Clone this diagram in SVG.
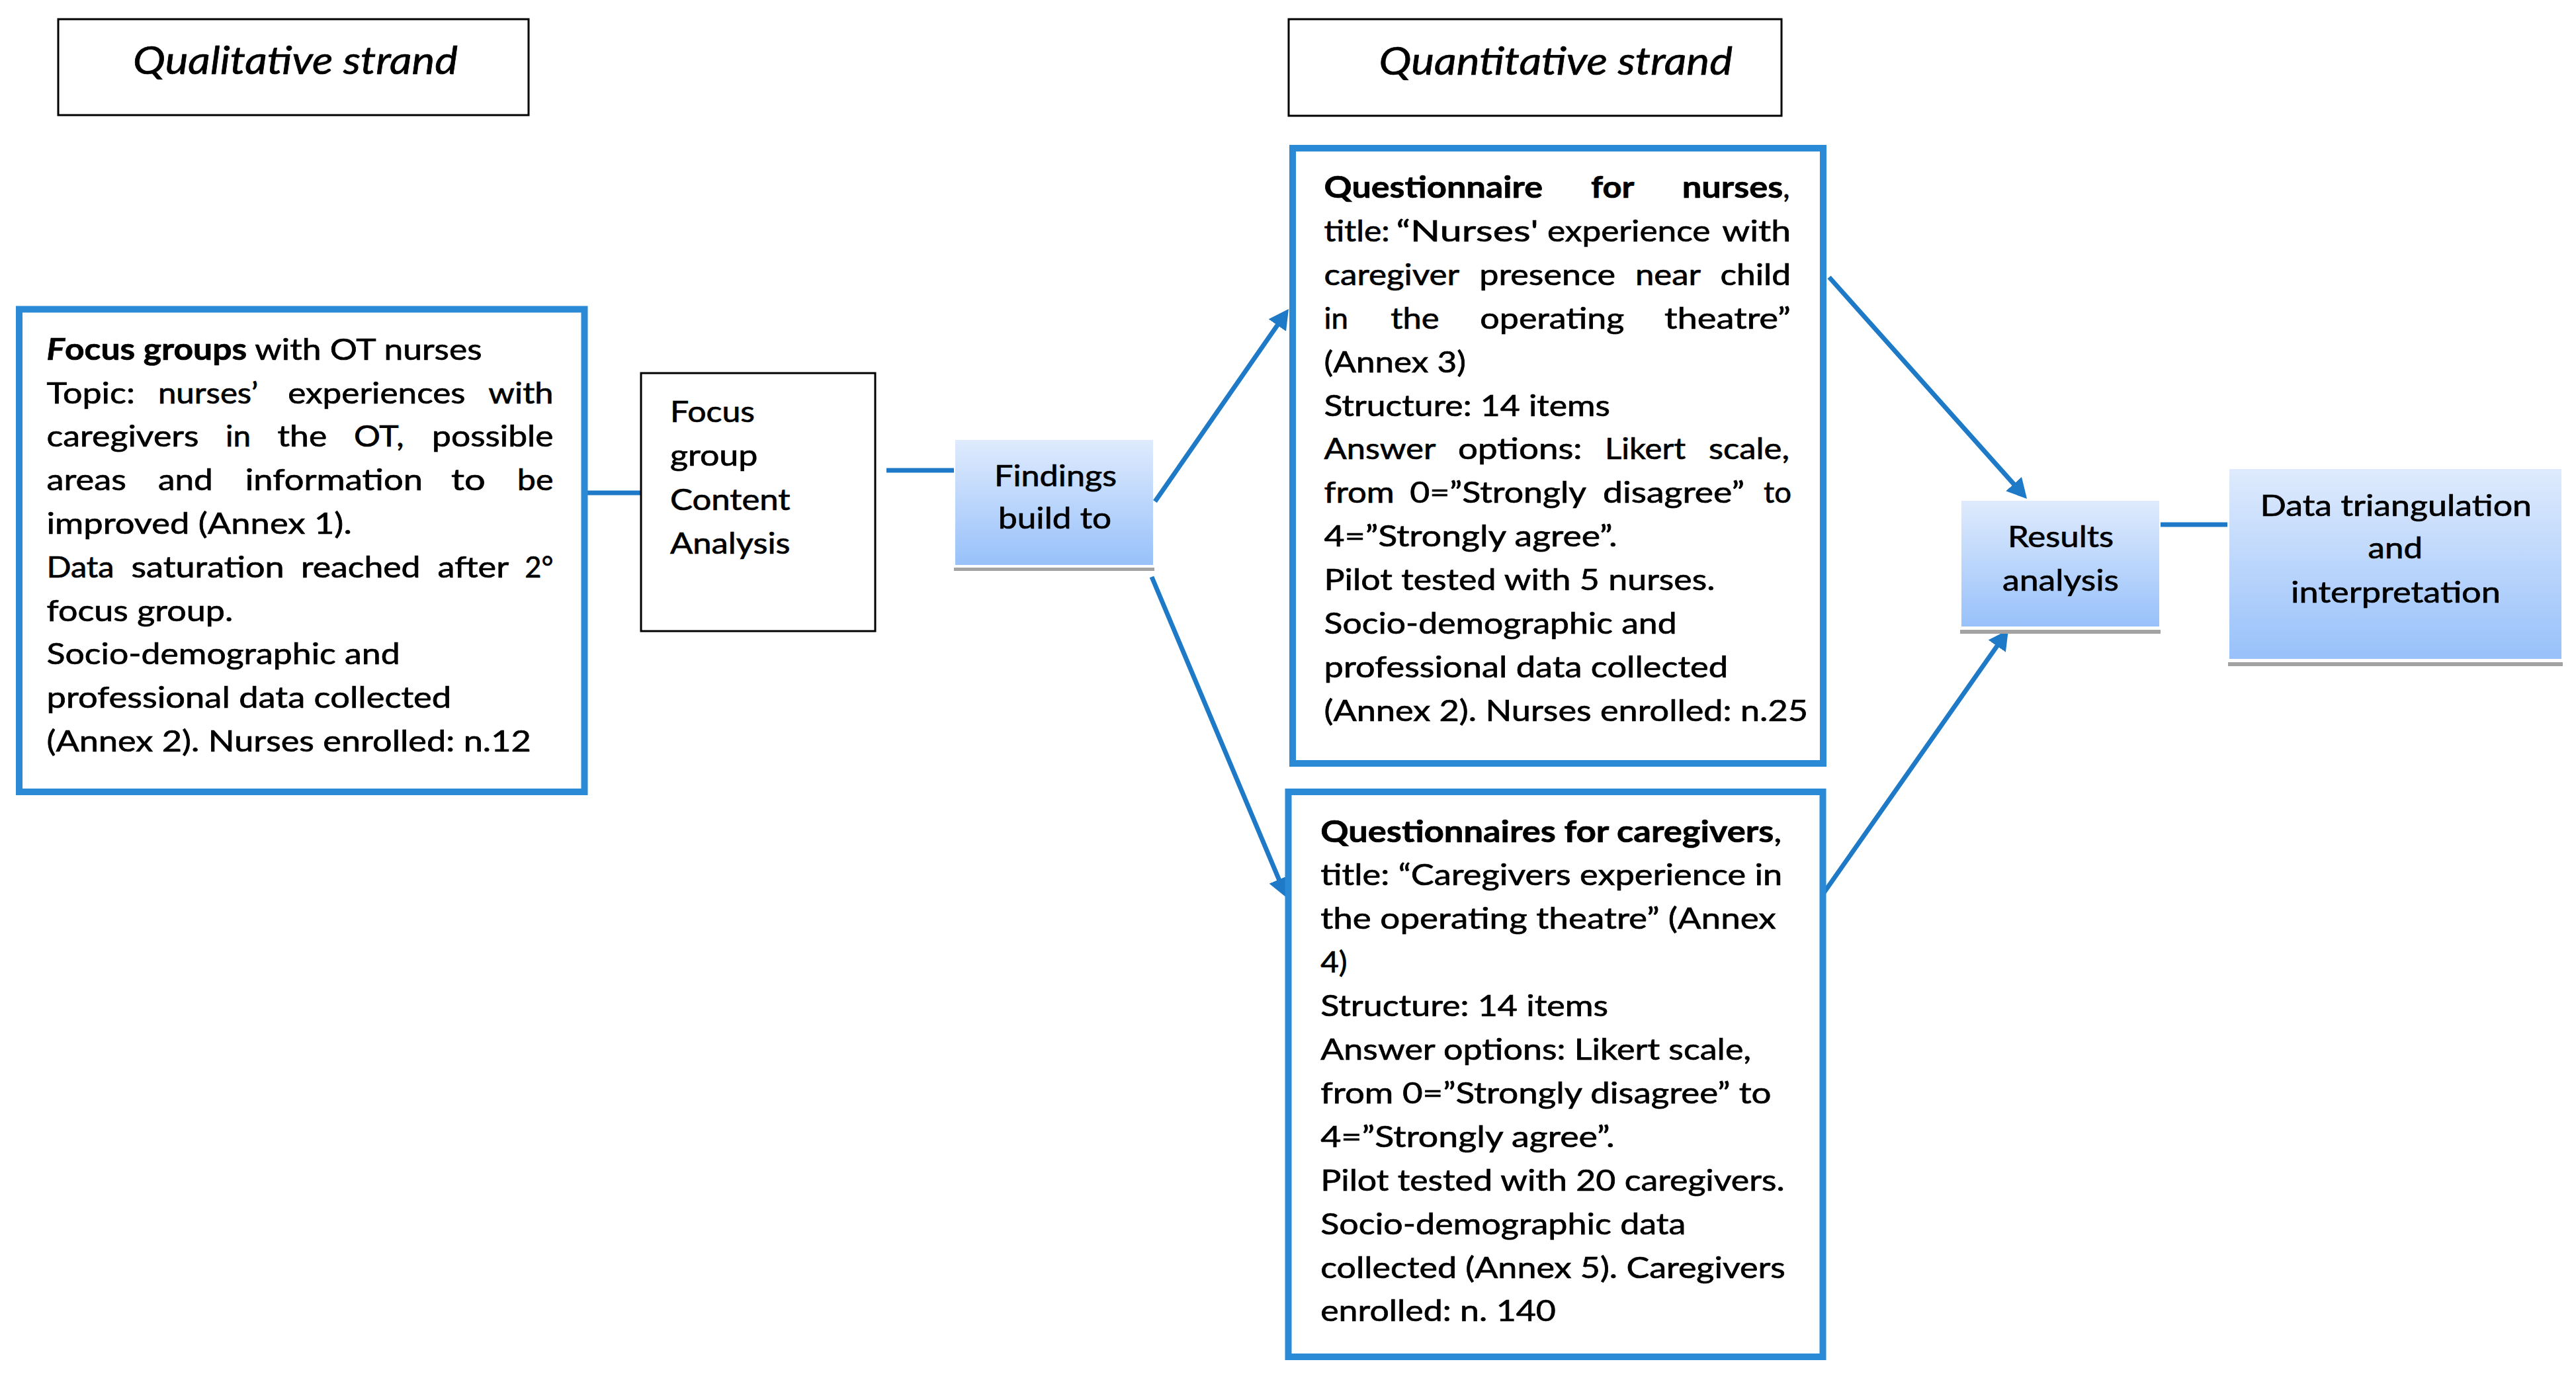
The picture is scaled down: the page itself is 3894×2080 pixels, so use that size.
<svg xmlns="http://www.w3.org/2000/svg" width="3894" height="2080" viewBox="0 0 3894 2080">
<style>
.t{font-family:Lato,"Open Sans","Liberation Sans",sans-serif;font-size:45px;fill:#000;stroke:#000;stroke-width:0.7px}
.b{font-weight:bold}
.i{font-style:italic}
.ttl{font-size:58px;font-style:italic}
.blue{fill:#fff;stroke:#2b8ad6;stroke-width:10}
.blk{fill:#fff;stroke:#000;stroke-width:3}
.grad{fill:url(#g)}
.shadow{fill:#a3a3a3}
.conn{stroke:#1e7ac6;stroke-width:7;fill:none}
.arr{marker-end:url(#ah)}
</style>
<defs>
<linearGradient id="g" x1="0" y1="0" x2="0" y2="1">
<stop offset="0" stop-color="#dfebfd"/>
<stop offset="1" stop-color="#98c1fa"/>
</linearGradient>
<marker id="ah" markerUnits="userSpaceOnUse" markerWidth="30" markerHeight="32" viewBox="0 0 30 32" refX="10" refY="16" orient="auto">
<path d="M0,0 L30,16 L0,32 z" fill="#1e7ac6"/>
</marker>
</defs>
<rect width="3894" height="2080" fill="#fff"/>

<g id="connectors">
<line class="conn" x1="884" y1="745" x2="969" y2="745"/>
<line class="conn" x1="1340" y1="711" x2="1442" y2="711"/>
<line class="conn" x1="3266" y1="793" x2="3367" y2="793"/>
<line class="conn arr" x1="1746" y1="758" x2="1936.6" y2="483.4"/>
<line class="conn arr" x1="1741" y1="872" x2="1937.2" y2="1338.6"/>
<line class="conn arr" x1="2765" y1="419" x2="3050.7" y2="739.1"/>
<line class="conn arr" x1="2756" y1="1351" x2="3024.5" y2="968.4"/>
</g>

<g id="qualitative-strand">
<rect class="blk" x="88" y="29" width="711" height="145"/>
<text class="t ttl" x="201" y="112" textLength="491" lengthAdjust="spacingAndGlyphs">Qualitative strand</text>
</g>

<g id="quantitative-strand">
<rect class="blk" x="1948" y="29" width="745" height="146"/>
<text class="t ttl" x="2084.5" y="113" textLength="534.5" lengthAdjust="spacingAndGlyphs">Quantitative strand</text>
</g>

<g id="focus-groups">
<rect class="blue" x="29" y="467.5" width="854.5" height="729.5"/>
<text class="t" x="70.5" y="543.8" textLength="658" lengthAdjust="spacingAndGlyphs"><tspan class="b i">F</tspan><tspan class="b">ocus groups</tspan> with OT nurses</text>
<text class="t" y="609.6"><tspan x="70.5" textLength="133.5" lengthAdjust="spacingAndGlyphs">Topic:</tspan><tspan x="238.9" textLength="151.5" lengthAdjust="spacingAndGlyphs">nurses’</tspan><tspan x="435.3" textLength="268.2" lengthAdjust="spacingAndGlyphs">experiences</tspan><tspan x="738.3" textLength="98.2" lengthAdjust="spacingAndGlyphs">with</tspan></text>
<text class="t" y="675.4"><tspan x="70.5" textLength="230.1" lengthAdjust="spacingAndGlyphs">caregivers</tspan><tspan x="341" textLength="38" lengthAdjust="spacingAndGlyphs">in</tspan><tspan x="419.6" textLength="74.6" lengthAdjust="spacingAndGlyphs">the</tspan><tspan x="535" textLength="75.6" lengthAdjust="spacingAndGlyphs">OT,</tspan><tspan x="653" textLength="183.5" lengthAdjust="spacingAndGlyphs">possible</tspan></text>
<text class="t" y="741.2"><tspan x="70.5" textLength="120.5" lengthAdjust="spacingAndGlyphs">areas</tspan><tspan x="238.9" textLength="83" lengthAdjust="spacingAndGlyphs">and</tspan><tspan x="370.7" textLength="268.3" lengthAdjust="spacingAndGlyphs">information</tspan><tspan x="682" textLength="51.8" lengthAdjust="spacingAndGlyphs">to</tspan><tspan x="781.8" textLength="54.7" lengthAdjust="spacingAndGlyphs">be</tspan></text>
<text class="t" x="70.5" y="807" textLength="461.3" lengthAdjust="spacingAndGlyphs">improved (Annex 1).</text>
<text class="t" y="872.8"><tspan x="70.5" textLength="102.1" lengthAdjust="spacingAndGlyphs">Data</tspan><tspan x="198.5" textLength="231.2" lengthAdjust="spacingAndGlyphs">saturation</tspan><tspan x="454.9" textLength="180.7" lengthAdjust="spacingAndGlyphs">reached</tspan><tspan x="661.4" textLength="107.8" lengthAdjust="spacingAndGlyphs">after</tspan><tspan x="793.3" textLength="43.2" lengthAdjust="spacingAndGlyphs">2°</tspan></text>
<text class="t" x="70.5" y="938.6" textLength="281.7" lengthAdjust="spacingAndGlyphs">focus group.</text>
<text class="t" x="70.5" y="1004.4" textLength="534.2" lengthAdjust="spacingAndGlyphs">Socio-demographic and</text>
<text class="t" x="70.5" y="1070.2" textLength="611.7" lengthAdjust="spacingAndGlyphs">professional data collected</text>
<text class="t" x="70.5" y="1136" textLength="732.3" lengthAdjust="spacingAndGlyphs">(Annex 2). Nurses enrolled: n.12</text>
</g>

<g id="content-analysis">
<rect class="blk" x="969" y="564" width="354" height="390"/>
<text class="t" x="1013" y="638" textLength="128" lengthAdjust="spacingAndGlyphs">Focus</text>
<text class="t" x="1013" y="704" textLength="132.5" lengthAdjust="spacingAndGlyphs">group</text>
<text class="t" x="1013" y="771" textLength="181.6" lengthAdjust="spacingAndGlyphs">Content</text>
<text class="t" x="1013" y="837" textLength="181.6" lengthAdjust="spacingAndGlyphs">Analysis</text>
</g>

<g id="findings">
<rect class="shadow" x="1442" y="858" width="303" height="5"/>
<rect class="grad" x="1444" y="665" width="299" height="189"/>
<text class="t" x="1503" y="735" textLength="185" lengthAdjust="spacingAndGlyphs">Findings</text>
<text class="t" x="1509" y="799" textLength="171" lengthAdjust="spacingAndGlyphs">build to</text>
</g>

<g id="questionnaire-nurses">
<rect class="blue" x="1954" y="224" width="802" height="930"/>
<text class="t b" y="299"><tspan x="2001.6" textLength="330.5" lengthAdjust="spacingAndGlyphs">Questionnaire</tspan><tspan x="2405" textLength="65.4" lengthAdjust="spacingAndGlyphs">for</tspan><tspan x="2542.7" textLength="152.6" lengthAdjust="spacingAndGlyphs">nurses</tspan><tspan font-weight="normal">,</tspan></text>
<text class="t" y="364.9"><tspan x="2001.6" textLength="99.1" lengthAdjust="spacingAndGlyphs">title:</tspan><tspan x="2110.4" textLength="215.3" lengthAdjust="spacingAndGlyphs">“Nurses'</tspan><tspan x="2339" textLength="246.5" lengthAdjust="spacingAndGlyphs">experience</tspan><tspan x="2603.2" textLength="103.8" lengthAdjust="spacingAndGlyphs">with</tspan></text>
<text class="t" y="430.8"><tspan x="2001.6" textLength="204.6" lengthAdjust="spacingAndGlyphs">caregiver</tspan><tspan x="2236.2" textLength="205.8" lengthAdjust="spacingAndGlyphs">presence</tspan><tspan x="2472" textLength="99" lengthAdjust="spacingAndGlyphs">near</tspan><tspan x="2600.5" textLength="106.5" lengthAdjust="spacingAndGlyphs">child</tspan></text>
<text class="t" y="496.7"><tspan x="2001.6" textLength="36.4" lengthAdjust="spacingAndGlyphs">in</tspan><tspan x="2102.3" textLength="73.4" lengthAdjust="spacingAndGlyphs">the</tspan><tspan x="2237.3" textLength="218.1" lengthAdjust="spacingAndGlyphs">operating</tspan><tspan x="2515.9" textLength="191.1" lengthAdjust="spacingAndGlyphs">theatre”</tspan></text>
<text class="t" x="2001.6" y="562.6" textLength="214.3" lengthAdjust="spacingAndGlyphs">(Annex 3)</text>
<text class="t" x="2001.6" y="628.5" textLength="432.3" lengthAdjust="spacingAndGlyphs">Structure: 14 items</text>
<text class="t" y="694.4"><tspan x="2001.6" textLength="168.8" lengthAdjust="spacingAndGlyphs">Answer</tspan><tspan x="2204" textLength="187.6" lengthAdjust="spacingAndGlyphs">options:</tspan><tspan x="2426" textLength="122" lengthAdjust="spacingAndGlyphs">Likert</tspan><tspan x="2583" textLength="122" lengthAdjust="spacingAndGlyphs">scale,</tspan></text>
<text class="t" y="760.3"><tspan x="2001.6" textLength="106.1" lengthAdjust="spacingAndGlyphs">from</tspan><tspan x="2131.2" textLength="266.8" lengthAdjust="spacingAndGlyphs">0=”Strongly</tspan><tspan x="2423" textLength="214" lengthAdjust="spacingAndGlyphs">disagree”</tspan><tspan x="2666" textLength="42" lengthAdjust="spacingAndGlyphs">to</tspan></text>
<text class="t" x="2001.6" y="826.2" textLength="443" lengthAdjust="spacingAndGlyphs">4=”Strongly agree”.</text>
<text class="t" x="2001.6" y="892.1" textLength="590.9" lengthAdjust="spacingAndGlyphs">Pilot tested with 5 nurses.</text>
<text class="t" x="2001.6" y="958" textLength="533" lengthAdjust="spacingAndGlyphs">Socio-demographic and</text>
<text class="t" x="2001.6" y="1023.9" textLength="610.4" lengthAdjust="spacingAndGlyphs">professional data collected</text>
<text class="t" x="2001.6" y="1089.8" textLength="731.4" lengthAdjust="spacingAndGlyphs">(Annex 2). Nurses enrolled: n.25</text>
</g>

<g id="questionnaire-caregivers">
<rect class="blue" x="1947.5" y="1197" width="808" height="854"/>
<text class="t" x="1996.2" y="1272.5" textLength="697" lengthAdjust="spacingAndGlyphs"><tspan class="b">Questionnaires for caregivers</tspan>,</text>
<text class="t" x="1996.2" y="1338.4" textLength="698.1" lengthAdjust="spacingAndGlyphs">title: “Caregivers experience in</text>
<text class="t" x="1996.2" y="1404.3" textLength="688.6" lengthAdjust="spacingAndGlyphs">the operating theatre” (Annex</text>
<text class="t" x="1996.2" y="1470.2" textLength="40.4" lengthAdjust="spacingAndGlyphs">4)</text>
<text class="t" x="1996.2" y="1536.1" textLength="434.8" lengthAdjust="spacingAndGlyphs">Structure: 14 items</text>
<text class="t" x="1996.2" y="1602" textLength="651" lengthAdjust="spacingAndGlyphs">Answer options: Likert scale,</text>
<text class="t" x="1996.2" y="1667.9" textLength="681.3" lengthAdjust="spacingAndGlyphs">from 0=”Strongly disagree” to</text>
<text class="t" x="1996.2" y="1733.8" textLength="444.5" lengthAdjust="spacingAndGlyphs">4=”Strongly agree”.</text>
<text class="t" x="1996.2" y="1799.7" textLength="701.5" lengthAdjust="spacingAndGlyphs">Pilot tested with 20 caregivers.</text>
<text class="t" x="1996.2" y="1865.6" textLength="552.2" lengthAdjust="spacingAndGlyphs">Socio-demographic data</text>
<text class="t" x="1996.2" y="1931.5" textLength="702.6" lengthAdjust="spacingAndGlyphs">collected (Annex 5). Caregivers</text>
<text class="t" x="1996.2" y="1997.4" textLength="355.8" lengthAdjust="spacingAndGlyphs">enrolled: n. 140</text>
</g>

<g id="results-analysis">
<rect class="shadow" x="2963" y="952" width="303" height="6"/>
<rect class="grad" x="2965" y="757" width="299" height="190"/>
<text class="t" x="3035" y="827" font-size="40" textLength="160" lengthAdjust="spacingAndGlyphs">Results</text>
<text class="t" x="3027" y="893" font-size="40" textLength="176" lengthAdjust="spacingAndGlyphs">analysis</text>
</g>

<g id="data-triangulation">
<rect class="shadow" x="3368" y="1001" width="506" height="6"/>
<rect class="grad" x="3370" y="709" width="502" height="287"/>
<text class="t" x="3416.5" y="780" font-size="46" textLength="410.5" lengthAdjust="spacingAndGlyphs">Data triangulation</text>
<text class="t" x="3579.6" y="844" font-size="46" textLength="82.4" lengthAdjust="spacingAndGlyphs">and</text>
<text class="t" x="3463" y="911" font-size="46" textLength="317" lengthAdjust="spacingAndGlyphs">interpretation</text>
</g>
</svg>
